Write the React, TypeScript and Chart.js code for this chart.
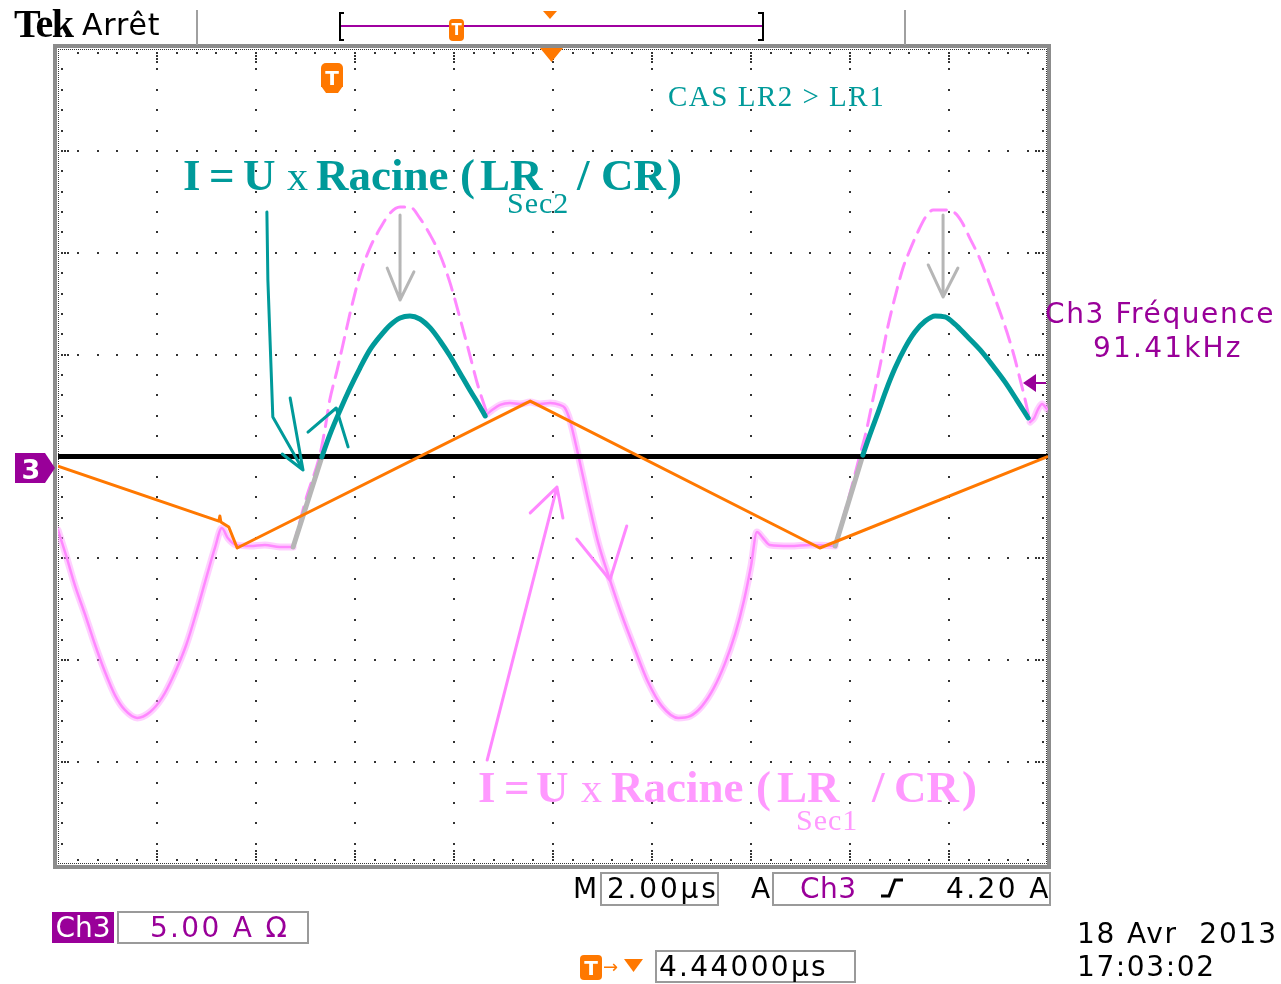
import React, { useEffect, useRef } from "react";
import { Chart, registerables } from "chart.js";

Chart.register(...registerables);

// ---------- data (time in µs, current in A; 2 µs/div, 5 A/div) ----------
// Ch3 current, solid (measured) parts
const pinkTime1 = [0, 0.16, 0.34, 0.55, 0.75, 0.95, 1.15, 1.35, 1.6, 1.86, 2.1, 2.34, 2.59, 2.81, 3.01, 3.17, 3.31, 3.43, 3.6, 3.88, 4.18, 4.48, 4.75];
const pinkAmp1 = [-3.61, -4.83, -6.31, -7.78, -9.25, -10.58, -11.71, -12.44, -12.83, -12.54, -11.85, -10.72, -9.25, -7.53, -5.82, -4.49, -3.51, -4.0, -4.34, -4.39, -4.34, -4.44, -4.44];
const pinkTime2 = [8.67, 8.77, 8.93, 9.13, 9.33, 9.54, 9.74, 9.94, 10.14, 10.24, 10.34, 10.51, 10.71, 10.91, 11.15, 11.39, 11.66, 11.92, 12.2, 12.53, 12.77, 13.01, 13.25, 13.47, 13.68, 13.86, 14.0, 14.12, 14.24, 14.38, 14.79, 15.19, 15.7];
const pinkAmp2 = [2.09, 2.28, 2.53, 2.63, 2.58, 2.67, 2.58, 2.63, 2.53, 2.38, 1.79, 0.07, -2.13, -4.2, -6.06, -7.78, -9.5, -11.07, -12.25, -12.83, -12.74, -12.25, -11.36, -10.18, -8.71, -7.04, -5.37, -3.71, -4.0, -4.34, -4.39, -4.34, -4.39];
const pinkTime3 = [19.64, 19.72, 19.8, 19.88, 19.98];
const pinkAmp3 = [1.69, 1.89, 2.33, 2.58, 2.33];

// Ch3 current, faded (dashed) peaks
const pinkDashTime1 = [4.75, 5.02, 5.29, 5.39, 5.49, 5.64, 5.8, 5.94, 6.1, 6.3, 6.51, 6.71, 6.91, 7.11, 7.31, 7.52, 7.72, 7.92, 8.12, 8.32, 8.48, 8.67];
const pinkDashAmp1 = [-4.44, -2.0, 0.07, 1.3, 2.77, 4.25, 5.96, 7.44, 8.91, 10.23, 11.21, 11.95, 12.24, 12.24, 11.7, 10.87, 9.89, 8.52, 6.8, 4.98, 3.51, 2.09];
const pinkDashTime2 = [15.7, 15.98, 16.2, 16.32, 16.46, 16.61, 16.75, 16.91, 17.07, 17.21, 17.37, 17.54, 17.68, 17.92, 18.12, 18.26, 18.42, 18.59, 18.73, 18.89, 19.03, 19.17, 19.31, 19.43, 19.54, 19.64];
const pinkDashAmp2 = [-4.39, -2.0, 0.07, 1.15, 2.77, 4.49, 6.21, 7.83, 9.25, 10.13, 11.02, 11.8, 12.1, 12.1, 11.95, 11.51, 10.72, 9.89, 9.05, 8.02, 7.09, 6.11, 4.98, 3.85, 2.77, 1.69];

// grey rising edges
const greyTime = [4.75, 5.33, 5.33, 15.7, 16.26];
const greyAmp = [-4.44, -0.02, null, -4.39, 0.07];

// teal (LR Sec2) peaks
const tealTime1 = [5.33, 5.49, 5.7, 5.9, 6.1, 6.3, 6.51, 6.71, 6.91, 7.11, 7.31, 7.52, 7.72, 7.92, 8.12, 8.32, 8.48, 8.63];
const tealAmp1 = [-0.02, 1.06, 2.28, 3.36, 4.34, 5.23, 5.91, 6.45, 6.8, 6.9, 6.75, 6.31, 5.67, 4.93, 4.1, 3.26, 2.63, 1.99];
const tealTime2 = [16.26, 16.4, 16.57, 16.73, 16.91, 17.11, 17.31, 17.52, 17.72, 17.92, 18.12, 18.36, 18.63, 18.89, 19.13, 19.37, 19.6];
const tealAmp2 = [0.07, 1.06, 2.18, 3.26, 4.34, 5.33, 6.11, 6.65, 6.9, 6.85, 6.5, 5.91, 5.23, 4.44, 3.66, 2.77, 1.89];

// orange triangle
const orangeTime = [0, 3.25, 3.27, 3.29, 3.45, 3.62, 9.54, 15.39, 19.98];
const orangeAmp = [-0.47, -3.17, -2.92, -3.21, -3.46, -4.49, 2.72, -4.49, -0.02];

// reference line
const refTime = [0, 20];
const refAmp = [0, 0];

// hand-drawn arrows (null = pen up)
const tealArrowTime = [4.22, 4.24, 4.34, 4.95, 4.95, 4.69, 4.95, 4.95, 4.53, 4.95, 4.95, 5.05, 5.62, 5.86];
const tealArrowAmp = [12.0, 8.66, 1.94, -0.66, null, 2.87, -0.66, null, 0.12, -0.66, null, 1.2, 2.38, 0.47];
const greyArrowTime = [6.91, 6.91, 6.91, 6.65, 6.91, 7.19, 7.19, 17.88, 17.88, 17.88, 17.58, 17.88, 18.18];
const greyArrowAmp = [11.85, 7.68, null, 9.25, 7.68, 9.06, null, 11.85, 7.83, null, 9.4, 7.83, 9.25];
const pinkArrowTime = [8.67, 10.08, 10.08, 9.54, 10.08, 10.2, 10.2, 10.48, 11.15, 11.49];
const pinkArrowAmp = [-14.9, -1.5, null, -2.77, -1.5, -3.02, null, -4.05, -6.06, -3.41];

// text
const tealFormula: [string, number][] = [["I", 183], ["=", 209], ["U", 243], ["Racine", 316], ["(", 460], ["LR", 480], ["/", 577], ["CR", 601], [")", 667]];
const pinkFormula: [string, number][] = [["I", 478], ["=", 504], ["U", 536], ["Racine", 611], ["(", 756], ["LR", 777], ["/", 872], ["CR", 894], [")", 962]];

const TEAL = "#009a9a";
const PINK = "#ff88ff";
const PINK_TXT = "#ff99ff";
const PURPLE = "#990099";
const ORANGE = "#ff7800";
const GREY = "#b6b6b6";

const xy = (t: number[], a: (number | null)[]) => t.map((x, i) => ({ x, y: a[i] }));

function line(data: any, color: string, width: number, order: number, extra: any = {}) {
  return {
    data,
    borderColor: color,
    borderWidth: width,
    pointRadius: 0,
    tension: 0,
    fill: false,
    spanGaps: false,
    order,
    borderCapStyle: "round",
    borderJoinStyle: "round",
    ...extra,
  };
}

const smooth = { cubicInterpolationMode: "monotone" };

function txt(ctx: CanvasRenderingContext2D, s: string, x: number, y: number, font: string, color: string, ls = 0, align: CanvasTextAlign = "left") {
  ctx.font = font;
  ctx.fillStyle = color;
  ctx.textAlign = align;
  ctx.textBaseline = "alphabetic";
  (ctx as any).letterSpacing = ls + "px";
  ctx.fillText(s, x, y);
  (ctx as any).letterSpacing = "0px";
}

function tri(ctx: CanvasRenderingContext2D, pts: number[][], color: string) {
  ctx.fillStyle = color;
  ctx.beginPath();
  ctx.moveTo(pts[0][0], pts[0][1]);
  for (let i = 1; i < pts.length; i++) ctx.lineTo(pts[i][0], pts[i][1]);
  ctx.closePath();
  ctx.fill();
}

function tMarker(ctx: CanvasRenderingContext2D, x: number, y: number, w: number, h: number, size: number) {
  ctx.fillStyle = ORANGE;
  ctx.beginPath();
  (ctx as any).roundRect(x, y, w, h, 4);
  ctx.fill();
  txt(ctx, "T", x + w / 2, y + h / 2 + size * 0.36, `bold ${size}px "DejaVu Sans"`, "#fff", 0, "center");
}

const scopePlugin = {
  id: "scope",
  beforeDraw(chart: any) {
    const ctx = chart.ctx;
    ctx.save();
    ctx.fillStyle = "#fff";
    ctx.fillRect(0, 0, chart.width, chart.height);
    ctx.restore();
  },
  beforeDatasetsDraw(chart: any) {
    const ctx: CanvasRenderingContext2D = chart.ctx;
    const { left, top, right, bottom } = chart.chartArea;
    const xs = chart.scales.x;
    const ys = chart.scales.y;
    ctx.save();
    ctx.fillStyle = "#333";
    const dot = (x: number, y: number, w = 2, h = 2) => ctx.fillRect(Math.round(x) - 1, Math.round(y) - 1, w, h);
    // major grid (dotted)
    for (let k = 1; k < 10; k++) {
      const x = xs.getPixelForValue(k * 2);
      for (let j = 1; j < 40; j++) dot(x, ys.getPixelForValue(-20 + j));
    }
    for (let k = 1; k < 8; k++) {
      const y = ys.getPixelForValue(-20 + k * 5);
      for (let j = 1; j < 50; j++) dot(xs.getPixelForValue(j * 0.4), y);
    }
    // edges: dense dotted line + ticks
    for (let x = left; x <= right; x += 2) {
      ctx.fillRect(x, top, 1, 1);
      ctx.fillRect(x, bottom - 1, 1, 1);
    }
    for (let y = top; y <= bottom; y += 2) {
      ctx.fillRect(left, y, 1, 1);
      ctx.fillRect(right - 2, y, 1, 1);
    }
    for (let j = 1; j < 50; j++) {
      const x = xs.getPixelForValue(j * 0.4);
      dot(x, top + 4);
      dot(x, bottom - 4);
      if (j % 5 === 0) {
        for (let d = 7; d <= 13; d += 3) { dot(x, top + d); dot(x, bottom - d); }
      }
    }
    for (let j = 1; j < 40; j++) {
      const y = ys.getPixelForValue(-20 + j);
      dot(left + 4, y);
      dot(right - 5, y);
      if (j % 5 === 0) {
        for (let d = 7; d <= 10; d += 3) { dot(left + d, y); dot(right - 2 - d, y); }
      }
    }
    // frame
    ctx.strokeStyle = "#8c8c8c";
    ctx.lineWidth = 4;
    ctx.strokeRect(55, 46, 994, 821);
    ctx.restore();
  },
  afterDatasetsDraw(chart: any) {
    const ctx: CanvasRenderingContext2D = chart.ctx;
    ctx.save();
    const serif = '"Liberation Serif", serif';
    const sans = '"DejaVu Sans", sans-serif';

    // header
    txt(ctx, "Tek", 14, 37, `bold 40px ${serif}`, "#000", -1.5);
    txt(ctx, "Arrêt", 82, 35, `30px ${sans}`, "#000", 0.8);
    ctx.fillStyle = "#a0a0a0";
    ctx.fillRect(196, 10, 2, 35);
    ctx.fillRect(904, 10, 2, 35);
    // record bar
    ctx.fillStyle = "#000";
    ctx.fillRect(339, 12, 2, 29);
    ctx.fillRect(339, 12, 5, 2);
    ctx.fillRect(339, 39, 5, 2);
    ctx.fillRect(762, 12, 2, 29);
    ctx.fillRect(758, 12, 5, 2);
    ctx.fillRect(758, 39, 5, 2);
    ctx.fillStyle = "#a000a0";
    ctx.fillRect(341, 25, 421, 2);
    tMarker(ctx, 449, 19, 15, 22, 15);
    tri(ctx, [[543, 11], [557, 11], [550, 19]], ORANGE);
    tri(ctx, [[540, 48], [563, 48], [551.5, 62]], ORANGE);

    // T shield in plot
    ctx.fillStyle = ORANGE;
    ctx.beginPath();
    (ctx as any).roundRect(321, 63, 22, 24, [5, 5, 0, 0]);
    ctx.fill();
    tri(ctx, [[321, 86], [343, 86], [338, 93], [326, 93]], ORANGE);
    txt(ctx, "T", 332, 85, `bold 20px ${sans}`, "#fff", 0, "center");

    // left "3" marker
    tri(ctx, [[15, 453], [45, 453], [55, 468], [45, 483], [15, 483]], PURPLE);
    txt(ctx, "3", 31, 479, `bold 27px ${sans}`, "#fff", 0, "center");
    // right arrow marker
    tri(ctx, [[1023, 383], [1036, 374], [1036, 392]], PURPLE);
    ctx.fillStyle = PURPLE;
    ctx.fillRect(1034, 382, 12, 2);

    // annotations
    txt(ctx, "CAS LR2 > LR1", 668, 106, `29px ${serif}`, TEAL, 1.5);
    for (const [s, x] of tealFormula) txt(ctx, s, x, 190, `bold 45px ${serif}`, TEAL);
    txt(ctx, "x", 287, 190, `42px ${serif}`, TEAL);
    txt(ctx, "Sec2", 507, 213, `30px ${serif}`, TEAL, 1);
    for (const [s, x] of pinkFormula) txt(ctx, s, x, 802, `bold 45px ${serif}`, PINK_TXT);
    txt(ctx, "x", 581, 802, `42px ${serif}`, PINK_TXT);
    txt(ctx, "Sec1", 796, 830, `30px ${serif}`, PINK_TXT, 1);

    txt(ctx, "Ch3 Fréquence", 1045, 323, `28px ${sans}`, PURPLE, 1.6);
    txt(ctx, "91.41kHz", 1093, 357, `28px ${sans}`, PURPLE, 2.2);

    // bottom status
    ctx.strokeStyle = "#9a9a9a";
    ctx.lineWidth = 2;
    ctx.strokeRect(601, 873, 117, 32);
    ctx.strokeRect(773, 873, 277, 32);
    ctx.strokeRect(118, 912, 190, 31);
    ctx.strokeRect(656, 951, 199, 31);
    txt(ctx, "M", 573, 898, `28px ${sans}`, "#000");
    txt(ctx, "2.00µs", 607, 898, `28px ${sans}`, "#000", 2.8);
    txt(ctx, "A", 751, 898, `28px ${sans}`, "#000");
    txt(ctx, "Ch3", 800, 898, `28px ${sans}`, PURPLE, 0.5);
    ctx.strokeStyle = "#000";
    ctx.lineWidth = 3;
    ctx.beginPath();
    ctx.moveTo(881, 896);
    ctx.lineTo(889, 896);
    ctx.lineTo(895, 880);
    ctx.lineTo(903, 880);
    ctx.stroke();
    txt(ctx, "4.20 A", 946, 898, `28px ${sans}`, "#000", 2.4);

    ctx.fillStyle = PURPLE;
    ctx.fillRect(52, 912, 62, 31);
    txt(ctx, "Ch3", 83, 937, `28px ${sans}`, "#fff", 0, "center");
    txt(ctx, "5.00 A Ω", 150, 937, `28px ${sans}`, PURPLE, 2.3);

    tMarker(ctx, 580, 955, 22, 25, 20);
    txt(ctx, "→", 603, 973, `18px ${sans}`, ORANGE);
    tri(ctx, [[624, 959], [643, 959], [633.5, 972]], ORANGE);
    txt(ctx, "4.44000µs", 659, 976, `28px ${sans}`, "#000", 2.3);

    txt(ctx, "18 Avr  2013", 1077, 943, `28px ${sans}`, "#000", 1.8);
    txt(ctx, "17:03:02", 1077, 976, `28px ${sans}`, "#000", 1.6);
    ctx.restore();
  },
};

export default function App() {
  const ref = useRef<HTMLCanvasElement>(null);
  useEffect(() => {
    const canvas = ref.current!;
    const halo = "rgba(255,150,255,0.45)";
    const chart = new Chart(canvas, {
      type: "line",
      data: {
        datasets: [
          line(xy(orangeTime, orangeAmp), ORANGE, 3, 0),
          line(xy(tealTime1, tealAmp1), TEAL, 5, 1, smooth),
          line(xy(tealTime2, tealAmp2), TEAL, 5, 1, smooth),
          line(xy(tealArrowTime, tealArrowAmp), TEAL, 3, 2),
          line(xy(greyArrowTime, greyArrowAmp), GREY, 3, 2),
          line(xy(pinkArrowTime, pinkArrowAmp), PINK, 3, 2),
          line(xy(refTime, refAmp), "#000", 5, 3, { borderCapStyle: "butt" }),
          line(xy(greyTime, greyAmp), GREY, 5, 4),
          line(xy(pinkDashTime1, pinkDashAmp1), PINK, 3, 5, { borderDash: [16, 9], ...smooth }),
          line(xy(pinkDashTime2, pinkDashAmp2), PINK, 3, 5, { borderDash: [16, 9], ...smooth }),
          line(xy(pinkTime1, pinkAmp1), PINK, 2.5, 6, smooth),
          line(xy(pinkTime2, pinkAmp2), PINK, 2.5, 6, smooth),
          line(xy(pinkTime3, pinkAmp3), PINK, 2.5, 6, smooth),
          line(xy(pinkTime1, pinkAmp1), halo, 7, 7, smooth),
          line(xy(pinkTime2, pinkAmp2), halo, 7, 7, smooth),
          line(xy(pinkTime3, pinkAmp3), halo, 7, 7, smooth),
        ] as any,
      },
      options: {
        responsive: false,
        maintainAspectRatio: false,
        devicePixelRatio: 1,
        animation: false,
        layout: { padding: { left: 58, top: 49, right: 233, bottom: 120 } },
        scales: {
          x: { type: "linear", min: 0, max: 20, display: false },
          y: { type: "linear", min: -20, max: 20, display: false },
        },
        plugins: { legend: { display: false }, tooltip: { enabled: false }, title: { display: false } },
        elements: { point: { radius: 0 } },
      } as any,
      plugins: [scopePlugin as any],
    });
    return () => chart.destroy();
  }, []);
  return (
    <div style={{ position: "absolute", left: 0, top: 0, width: 1281, height: 984, background: "#fff" }}>
      <canvas ref={ref} width={1281} height={984} style={{ display: "block", width: 1281, height: 984 }} />
    </div>
  );
}
